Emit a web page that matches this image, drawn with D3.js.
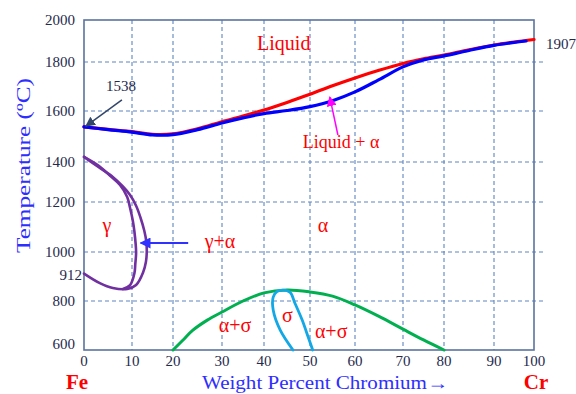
<!DOCTYPE html>
<html><head><meta charset="utf-8">
<script src="https://cdn.jsdelivr.net/npm/d3@7"></script>
<style>body{margin:0;background:#fff}svg{display:block}</style>
</head><body><svg id="c" width="576" height="394" font-family="'Liberation Serif','DejaVu Serif','Noto Serif','Times New Roman',Times,serif"></svg>
<script>
// ---- data ----
const xTicks = [0,10,20,30,40,50,60,70,80,90,100];
const yTicks = [600,800,1000,1200,1400,1600,1800,2000];
const yExtraTick = 912;
const liquidus = [[0,1538],[5,1528],[10,1519],[15,1508],[20,1510],[25,1530],[30,1558],[35,1580],[40,1604],[45,1635],[50,1668],[55,1703],[60,1735],[65,1766],[70,1794],[75,1815],[80,1833],[85,1858],[90,1881],[95,1895],[100,1907]];
const solidus = [[0,1538],[5,1527],[10,1517],[15,1506],[20,1507],[25,1527],[30,1553],[35,1573],[40,1590],[45,1602],[50,1618],[55,1642],[60,1678],[65,1728],[70,1780],[75,1810],[80,1829],[85,1855],[90,1879],[95,1893],[98,1900]];
const gammaOuter = [[0,1420],[3,1375],[6,1325],[8,1280],[9.6,1235],[11,1185],[12.1,1136],[13,1085],[13.5,1040],[13.6,1000],[13.4,960],[12.7,916],[11,865],[9,849],[6,853],[3.3,873],[0,912]];
const gammaInner = [[0,1420],[3,1382],[5.5,1330],[7.5,1285],[9,1225],[9.6,1176],[10.2,1125],[10.6,1080],[11,1000],[10.8,950],[10.6,914],[9.6,865],[8.1,849]];
const sigmaSolvus = [[20,600],[22,640],[24,680],[27,722],[30,755],[35,800],[40,833],[45,845],[50,837],[55,820],[60,784],[65,737],[70,685],[75,641],[80,600]];
const sigmaPhase = [[46.3,600],[43.5,682],[42,763],[42,816],[42.8,838],[44.1,844],[45.7,835],[46.7,792],[48.3,722],[49.6,653],[50.6,600]];
const regionLabels = [
  {text:"Liquid", x:44.3, t:1857},
  {text:"Liquid + \u03b1", x:56.9, t:1455},
  {text:"\u03b3", x:4.8, t:1080},
  {text:"\u03b3+\u03b1", x:29.6, t:1016},
  {text:"\u03b1", x:52.9, t:1080},
  {text:"\u03b1+\u03c3", x:33.1, t:673},
  {text:"\u03c3", x:45.1, t:714},
  {text:"\u03b1+\u03c3", x:54.7, t:649}
];
const arrowGammaAlpha = [[23.1,1036],[12.1,1036]];
const arrowLiquidAlpha = [[56.2,1506],[54.4,1657]];
const arrow1538 = [[7.9,1645],[0.4,1541]];
const label1538 = {text:"1538", x:7.7, t:1682};
const label1907 = {text:"1907", t:1907};
const xTitle = "Weight Percent Chromium\u2192";
const yTitle = "Temperature (\u00baC)";
const endLabels = ["Fe","Cr"];

// ---- drawing ----
const svg = d3.select("#c");
const x = d3.scaleLinear().domain(xTicks).range([84,132,173,222,264,310,355,403,444,494,534]);
const y = d3.scaleLinear().domain(yTicks).range([350,301,252,202,162,111,62,20]);
const X0 = x(0), X1 = x(100), Y0 = y(600), Y1 = y(2000);

const defs = svg.append("defs");
function marker(id, color, size){
  defs.append("marker").attr("id",id).attr("viewBox","0 0 10 10").attr("refX",9).attr("refY",5)
    .attr("markerWidth",size).attr("markerHeight",size).attr("orient","auto").attr("markerUnits","userSpaceOnUse")
    .append("path").attr("d","M0,0 L10,5 L0,10 z").attr("fill",color);
}
marker("mBlue","#3030ff",11);
marker("mMag","#ff00ff",10);
marker("mDark","#33476b",10);

// grid
const gridC = "#5f86bf";
svg.append("g").selectAll("line").data(xTicks.slice(1,-1)).join("line")
  .attr("x1",d=>x(d)).attr("x2",d=>x(d)).attr("y1",Y1).attr("y2",Y0)
  .attr("stroke",gridC).attr("stroke-width",1.1).attr("stroke-dasharray","4,3");
svg.append("g").selectAll("line").data(yTicks.slice(1,-1)).join("line")
  .attr("x1",X0).attr("x2",X1+10).attr("y1",d=>y(d)).attr("y2",d=>y(d))
  .attr("stroke",gridC).attr("stroke-width",1.1).attr("stroke-dasharray","4,3");

// frame
svg.append("rect").attr("x",X0).attr("y",Y1).attr("width",X1-X0).attr("height",Y0-Y1)
  .attr("fill","none").attr("stroke","#5a73a0").attr("stroke-width",1.6);

// tick labels
const tickC = "#1f2a4d";
svg.append("g").selectAll("text").data(xTicks).join("text")
  .attr("x",d=>x(d)).attr("y",Y0+16).attr("text-anchor","middle")
  .attr("font-size",15).attr("fill",tickC).text(d=>d);
svg.append("g").selectAll("text").data(yTicks).join("text")
  .attr("x",75).attr("y",d=>Math.min(y(d),344)+5).attr("text-anchor","end")
  .attr("font-size",15).attr("fill",tickC).text(d=>d);
svg.append("text").attr("x",82).attr("y",y(yExtraTick)+6).attr("text-anchor","end")
  .attr("font-size",15).attr("fill",tickC).text(yExtraTick);

// curves
const line = d3.line().x(d=>x(d[0])).y(d=>y(d[1])).curve(d3.curveCatmullRom.alpha(0.5));
function curve(data,color,w){
  svg.append("path").datum(data).attr("d",line).attr("fill","none")
    .attr("stroke",color).attr("stroke-width",w).attr("stroke-linecap","round").attr("stroke-linejoin","round");
}
curve(gammaOuter,"#7030a0",2.6);
curve(gammaInner,"#7030a0",2.6);
curve(sigmaSolvus,"#00b050",3);
curve(sigmaPhase,"#12a8e6",2.8);
curve(liquidus,"#ff0000",3.2);
curve(solidus,"#0000ff",3.2);

// arrows
const straight = d3.line().x(d=>x(d[0])).y(d=>y(d[1]));
svg.append("path").datum(arrowGammaAlpha).attr("d",straight).attr("stroke","#3030ff").attr("stroke-width",2).attr("marker-end","url(#mBlue)");
svg.append("path").datum(arrowLiquidAlpha).attr("d",straight).attr("stroke","#ff00ff").attr("stroke-width",1.5).attr("marker-end","url(#mMag)");
svg.append("path").datum(arrow1538).attr("d",straight).attr("stroke","#33476b").attr("stroke-width",1.5).attr("marker-end","url(#mDark)");

// region labels
const labelSize = {"Liquid":20, "Liquid + \u03b1":18};
svg.append("g").selectAll("text").data(regionLabels).join("text")
  .attr("x",d=>x(d.x)).attr("y",d=>y(d.t)).attr("text-anchor","middle")
  .attr("font-size",d=>labelSize[d.text]||20).attr("fill","#ff0000").text(d=>d.text);

svg.append("text").attr("x",x(label1538.x)).attr("y",y(label1538.t)).attr("text-anchor","middle")
  .attr("font-size",15).attr("fill",tickC).text(label1538.text);
svg.append("text").attr("x",X1+12).attr("y",y(label1907.t)+9)
  .attr("font-size",15).attr("fill",tickC).text(label1907.text);

// titles
svg.append("text").attr("x",202).attr("y",389)
  .attr("textLength",246).attr("lengthAdjust","spacingAndGlyphs")
  .attr("font-size",18).attr("fill","#2e2eff").text(xTitle);
svg.append("text").attr("transform","translate(30,253) rotate(-90)")
  .attr("textLength",175).attr("lengthAdjust","spacingAndGlyphs")
  .attr("font-size",19).attr("fill","#2e2eff").text(yTitle);
svg.append("text").attr("x",77).attr("y",389).attr("text-anchor","middle")
  .attr("font-size",21).attr("font-weight","bold").attr("fill","#ff0000").text(endLabels[0]);
svg.append("text").attr("x",536).attr("y",389).attr("text-anchor","middle")
  .attr("font-size",21).attr("font-weight","bold").attr("fill","#ff0000").text(endLabels[1]);
</script></body></html>
